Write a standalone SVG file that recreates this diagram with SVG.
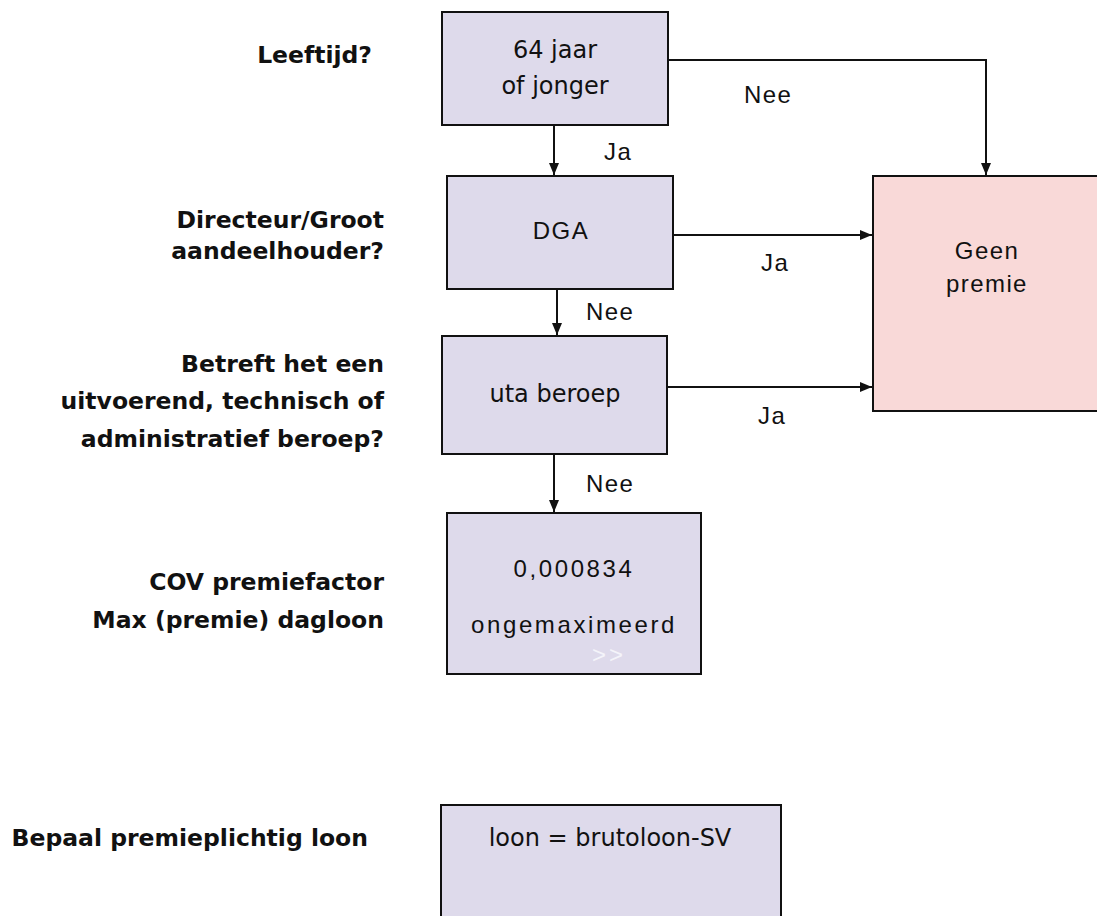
<svg xmlns="http://www.w3.org/2000/svg" width="1097" height="916" viewBox="0 0 1097 916">
<style>
.box{fill:#dedaeb;stroke:#111;stroke-width:2}
.pink{fill:#f9d9d8;stroke:#111;stroke-width:2}
.lbl{font-family:"DejaVu Sans",Verdana,sans-serif;font-weight:bold;font-size:23.5px;fill:#111;text-anchor:end}
.v{font-family:"DejaVu Sans",Verdana,sans-serif;font-size:24px;fill:#111;text-anchor:middle}
.a{font-family:"Liberation Sans",Arial,sans-serif;font-size:24px;fill:#111;letter-spacing:1.4px}
.am{font-family:"Liberation Sans",Arial,sans-serif;font-size:24px;fill:#111;text-anchor:middle;letter-spacing:2.6px}
.conn{fill:none;stroke:#111;stroke-width:2}
</style>
<defs>
<marker id="ah" markerWidth="12" markerHeight="10" refX="12" refY="5" orient="auto" markerUnits="userSpaceOnUse">
<path d="M0,0 L12,5 L0,10 Z" fill="#111"/>
</marker>
</defs>
<rect width="1097" height="916" fill="#fff"/>

<g id="labels">
<text class="lbl" x="372" y="63">Leeftijd?</text>
<text class="lbl" x="384" y="228">Directeur/Groot</text>
<text class="lbl" x="384" y="259">aandeelhouder?</text>
<text class="lbl" x="384" y="372">Betreft het een</text>
<text class="lbl" x="384" y="409">uitvoerend, technisch of</text>
<text class="lbl" x="384" y="447">administratief beroep?</text>
<text class="lbl" x="384" y="590">COV premiefactor</text>
<text class="lbl" x="384" y="628">Max (premie) dagloon</text>
<text class="lbl" x="368" y="846">Bepaal premieplichtig loon</text>
</g>

<g id="connectors">
<path class="conn" d="M554,125 V175" marker-end="url(#ah)"/>
<path class="conn" d="M668,60 H986 V175" marker-end="url(#ah)"/>
<path class="conn" d="M673,235 H872" marker-end="url(#ah)"/>
<path class="conn" d="M557,289 V335" marker-end="url(#ah)"/>
<path class="conn" d="M667,387 H872" marker-end="url(#ah)"/>
<path class="conn" d="M554,454 V512" marker-end="url(#ah)"/>
<text class="a" x="604" y="160">Ja</text>
<text class="a" x="744" y="103">Nee</text>
<text class="a" x="761" y="271">Ja</text>
<text class="a" x="586" y="320">Nee</text>
<text class="a" x="758" y="424">Ja</text>
<text class="a" x="586" y="492">Nee</text>
</g>

<g id="node-leeftijd">
<rect class="box" x="442" y="12" width="226" height="113"/>
<text class="v" x="555" y="58">64 jaar</text>
<text class="v" x="555" y="94">of jonger</text>
</g>

<g id="node-dga">
<rect class="box" x="447" y="176" width="226" height="113"/>
<text class="am" x="561" y="239" style="letter-spacing:1.5px">DGA</text>
</g>

<g id="node-uta">
<rect class="box" x="442" y="336" width="225" height="118"/>
<text class="v" x="555" y="402">uta beroep</text>
</g>

<g id="node-geen">
<rect class="pink" x="873" y="176" width="240" height="235"/>
<text class="am" x="987" y="259" style="letter-spacing:1.4px">Geen</text>
<text class="am" x="987" y="292" style="letter-spacing:1.4px">premie</text>
</g>

<g id="node-cov">
<rect class="box" x="447" y="513" width="254" height="161"/>
<text class="am" x="574" y="577">0,000834</text>
<text class="am" x="574" y="633">ongemaximeerd</text>
<text x="592" y="663" font-family="Liberation Sans, Arial, sans-serif" font-size="24" fill="#f4f4fa" letter-spacing="3">&gt;&gt;</text>
</g>

<g id="node-loon">
<rect class="box" x="441" y="805" width="340" height="130"/>
<text class="v" x="610" y="846">loon = brutoloon-SV</text>
</g>
</svg>
